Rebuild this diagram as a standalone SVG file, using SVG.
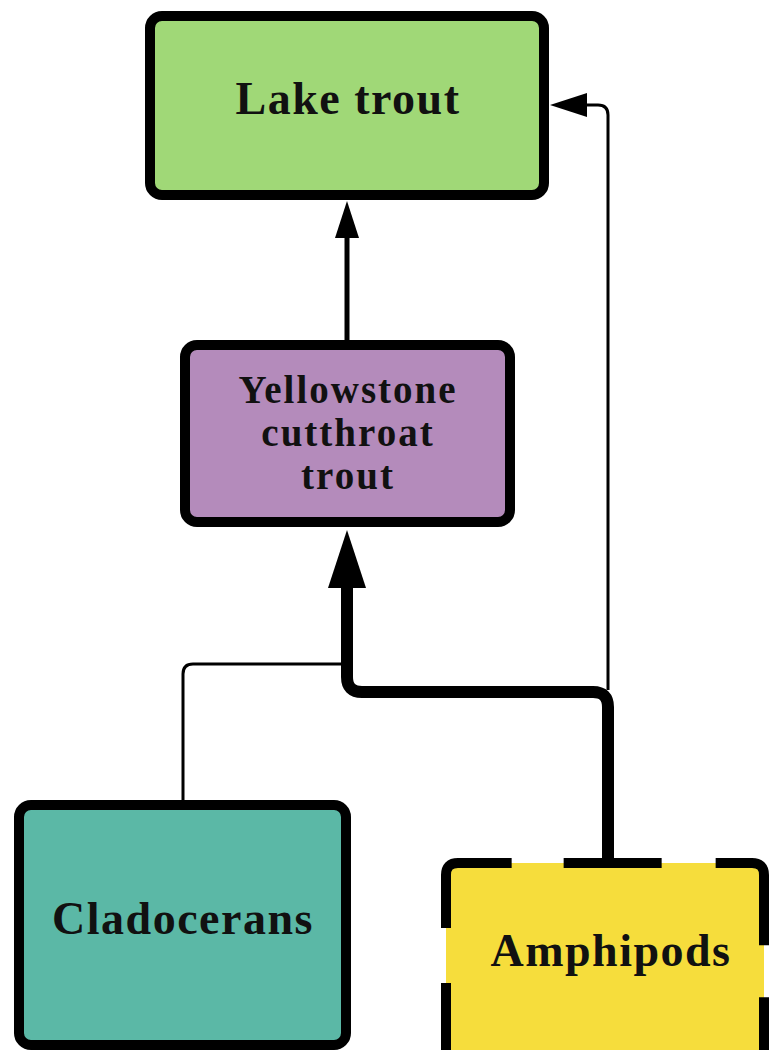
<svg xmlns="http://www.w3.org/2000/svg" width="770" height="1050" viewBox="0 0 770 1050">
<style>
.box{stroke:#000;stroke-width:10;}
.lbl{font-family:"Liberation Serif","Times New Roman",serif;font-weight:bold;font-size:46px;letter-spacing:1.5px;fill:#111;text-anchor:middle;}
.lbl.sm{font-size:39px;letter-spacing:2px;}
.con{fill:none;stroke:#000;stroke-linejoin:round;}
</style>
<defs>
<marker id="headBig" markerUnits="userSpaceOnUse" viewBox="0 -19 58 38" markerWidth="58" markerHeight="38" refX="0" refY="0" orient="auto"><path d="M0,-19 L58,0 L0,19 Z" fill="#000"/></marker>
<marker id="headMid" markerUnits="userSpaceOnUse" viewBox="0 -12 37 24" markerWidth="37" markerHeight="24" refX="0" refY="0" orient="auto"><path d="M0,-12 L37,0 L0,12 Z" fill="#000"/></marker>
</defs>
<rect width="770" height="1050" fill="#fff"/>
<g id="connectors">
<path class="con" d="M347,340 V238" stroke-width="5" marker-end="url(#headMid)"/>
<path class="con" d="M608,690 V115 Q608,105 598,105 H587" stroke-width="3" marker-end="url(#headMid)"/>
<path class="con" d="M183,800 V674 Q183,664 193,664 H345" stroke-width="3"/>
<path class="con" d="M608,860 V707 Q608,692 593,692 H362 Q347,692 347,677 V588" stroke-width="12" marker-end="url(#headBig)"/>
</g>
<g id="lake-trout">
<rect class="box" x="150" y="16" width="394" height="179" rx="12" fill="#a0d877"/>
<text class="lbl" x="348" y="114">Lake trout</text>
</g>
<g id="yellowstone-cutthroat-trout">
<rect class="box" x="185" y="345" width="325" height="177" rx="12" fill="#b48bbb"/>
<text class="lbl sm" x="348" y="403">Yellowstone</text>
<text class="lbl sm" x="348" y="446">cutthroat</text>
<text class="lbl sm" x="348" y="489">trout</text>
</g>
<g id="cladocerans">
<rect class="box" x="19" y="805" width="327" height="240" rx="12" fill="#5bb8a6"/>
<text class="lbl" x="183" y="934">Cladocerans</text>
</g>
<g id="amphipods">
<rect x="446" y="863" width="318" height="200" rx="12" fill="#f6dd3c"/>
<path d="M446,1060 V875 Q446,863 458,863 H752 Q764,863 764,875 V1060" fill="none" stroke="#000" stroke-width="10" stroke-dasharray="77 55 126 52 98 54 126 52 98 200"/>
<text class="lbl" x="611" y="966">Amphipods</text>
</g>
</svg>
